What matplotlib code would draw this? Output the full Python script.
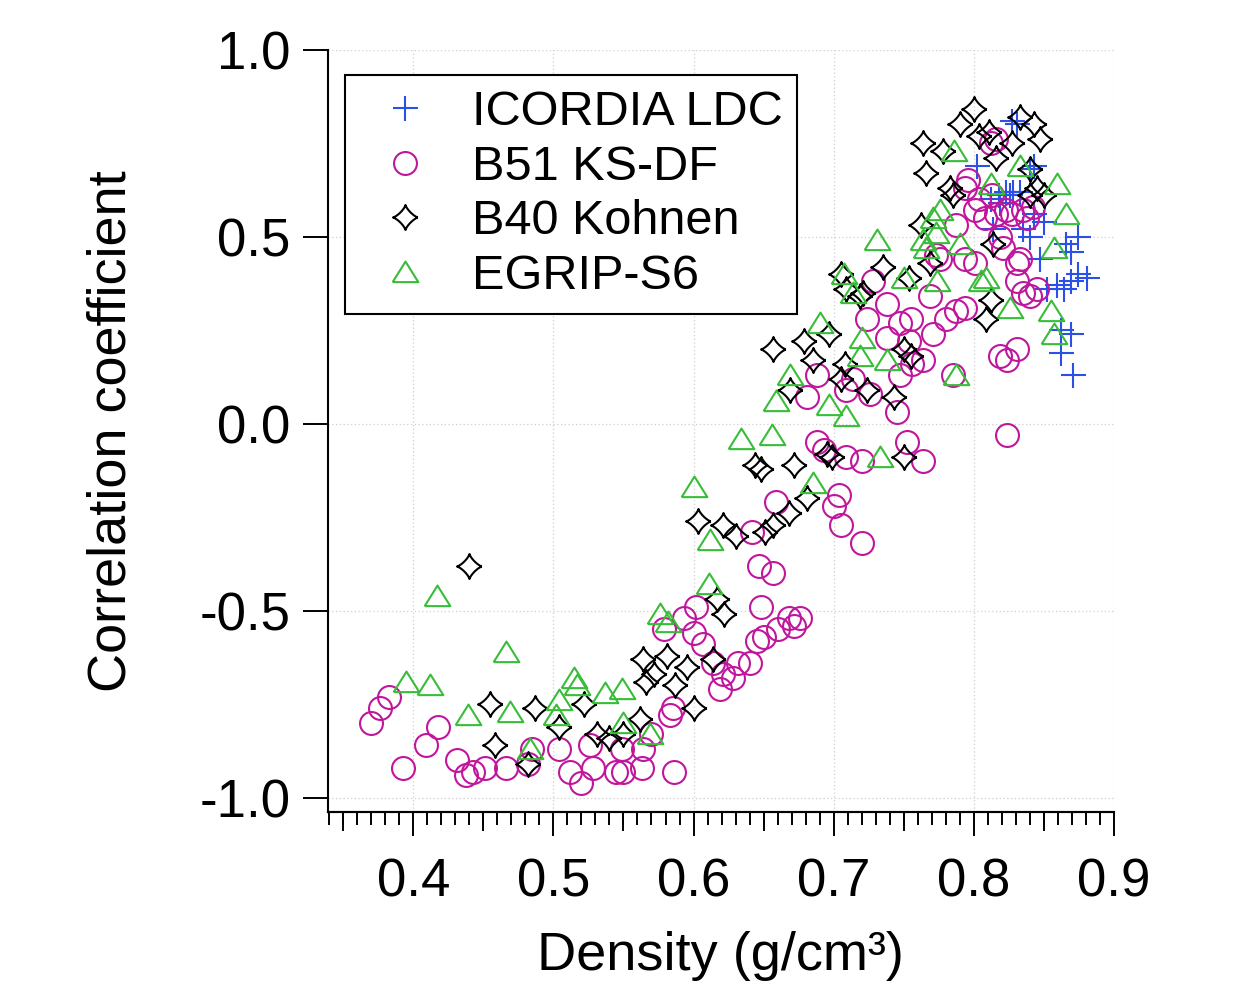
import matplotlib
matplotlib.use("Agg")
import matplotlib.pyplot as plt
from matplotlib.path import Path
from matplotlib.ticker import MultipleLocator, FixedLocator
import numpy as np

plt.rcParams["font.family"] = ["Liberation Sans", "DejaVu Sans"]
plt.rcParams["axes.unicode_minus"] = False

# --- data: density (g/cm3) vs correlation coefficient ---
icordia_density = [0.802, 0.812, 0.818, 0.823, 0.828, 0.833, 0.826, 0.819, 0.814, 0.843,
                   0.840, 0.835, 0.850, 0.847, 0.866, 0.874, 0.869, 0.852, 0.859, 0.864,
                   0.869, 0.874, 0.881, 0.862, 0.869, 0.862, 0.871, 0.831, 0.843, 0.827,
                   0.840]
icordia_corr = [0.69, 0.60, 0.61, 0.62, 0.62, 0.62, 0.61, 0.59, 0.52, 0.56,
                0.50, 0.52, 0.54, 0.44, 0.48, 0.50, 0.46, 0.36, 0.37, 0.36,
                0.38, 0.40, 0.39, 0.25, 0.24, 0.19, 0.13, 0.80, 0.69, 0.81,
                0.68]

b51_density = [0.370, 0.376, 0.383, 0.393, 0.409, 0.418, 0.431, 0.438, 0.443, 0.451,
               0.466, 0.482, 0.485, 0.504, 0.512, 0.520, 0.528, 0.526, 0.545, 0.550,
               0.549, 0.563, 0.564, 0.570, 0.586, 0.585, 0.583, 0.579, 0.593, 0.602,
               0.600, 0.607, 0.614, 0.621, 0.619, 0.628, 0.632, 0.640, 0.645, 0.650,
               0.660, 0.668, 0.672, 0.676, 0.648,
               0.642, 0.647, 0.657, 0.659, 0.688, 0.693, 0.709, 0.720, 0.704, 0.700,
               0.705, 0.720, 0.681, 0.688, 0.709, 0.714, 0.726, 0.745, 0.752, 0.764,
               0.785, 0.824, 0.819, 0.824, 0.831,
               0.724, 0.738, 0.738, 0.728, 0.747, 0.755, 0.756, 0.764, 0.747, 0.754,
               0.769, 0.771, 0.780, 0.787, 0.794, 0.773, 0.776, 0.794, 0.801, 0.787,
               0.796, 0.801, 0.808, 0.813, 0.819, 0.833, 0.835, 0.840, 0.845, 0.831,
               0.827, 0.835, 0.842, 0.812, 0.816, 0.804, 0.816, 0.823, 0.838, 0.821,
               0.831, 0.794]
b51_corr = [-0.80, -0.76, -0.73, -0.92, -0.86, -0.81, -0.90, -0.94, -0.93, -0.92,
            -0.92, -0.91, -0.87, -0.87, -0.93, -0.96, -0.92, -0.86, -0.93, -0.93,
            -0.87, -0.92, -0.87, -0.83, -0.93, -0.76, -0.78, -0.55, -0.52, -0.49,
            -0.56, -0.59, -0.64, -0.67, -0.71, -0.68, -0.64, -0.64, -0.58, -0.57,
            -0.55, -0.52, -0.54, -0.52, -0.49,
            -0.29, -0.38, -0.40, -0.21, -0.05, -0.07, -0.09, -0.10, -0.19, -0.22,
            -0.27, -0.32, 0.07, 0.13, 0.09, 0.12, 0.08, 0.03, -0.05, -0.10,
            0.13, -0.03, 0.18, 0.17, 0.20,
            0.28, 0.23, 0.32, 0.38, 0.27, 0.28, 0.16, 0.17, 0.13, 0.22,
            0.34, 0.24, 0.28, 0.30, 0.31, 0.45, 0.44, 0.44, 0.43, 0.53,
            0.65, 0.57, 0.55, 0.61, 0.50, 0.44, 0.35, 0.34, 0.36, 0.38,
            0.56, 0.57, 0.58, 0.75, 0.76, 0.60, 0.56, 0.57, 0.55, 0.47,
            0.43, 0.63]

b40_density = [0.440, 0.455, 0.458, 0.487, 0.482, 0.504, 0.522, 0.531, 0.540, 0.550,
               0.562, 0.564, 0.566, 0.572, 0.581, 0.587, 0.595, 0.600, 0.603, 0.621,
               0.617, 0.622, 0.614, 0.630, 0.644, 0.648, 0.672, 0.695, 0.699, 0.681,
               0.668, 0.657, 0.651, 0.657, 0.679, 0.697, 0.685, 0.708, 0.705, 0.724,
               0.669, 0.705, 0.709, 0.735, 0.719, 0.721, 0.754, 0.762, 0.766, 0.764,
               0.769, 0.800, 0.778, 0.790, 0.804, 0.811, 0.816, 0.783, 0.785, 0.833,
               0.843, 0.847, 0.827, 0.840, 0.845, 0.850, 0.840, 0.812, 0.809, 0.814,
               0.743, 0.750, 0.750, 0.755]
b40_corr = [-0.38, -0.75, -0.86, -0.76, -0.91, -0.81, -0.75, -0.83, -0.84, -0.83,
            -0.79, -0.63, -0.69, -0.67, -0.62, -0.70, -0.65, -0.76, -0.26, -0.27,
            -0.47, -0.51, -0.63, -0.30, -0.11, -0.12, -0.11, -0.08, -0.09, -0.20,
            -0.24, -0.27, -0.29, 0.20, 0.22, 0.24, 0.17, 0.16, 0.12, 0.09,
            0.09, 0.40, 0.36, 0.42, 0.34, 0.35, 0.39, 0.53, 0.67, 0.75,
            0.43, 0.84, 0.73, 0.80, 0.77, 0.78, 0.71, 0.63, 0.61, 0.82,
            0.80, 0.76, 0.75, 0.68, 0.63, 0.61, 0.61, 0.33, 0.28, 0.48,
            0.07, -0.09, 0.20, 0.18]

egrip_density = [0.417, 0.466, 0.395, 0.412, 0.439, 0.469, 0.483, 0.515, 0.517, 0.504,
                 0.502, 0.537, 0.549, 0.550, 0.569, 0.576, 0.582, 0.612, 0.611, 0.600,
                 0.634, 0.656, 0.685, 0.659, 0.669, 0.697, 0.709, 0.719, 0.720, 0.731,
                 0.690, 0.707, 0.738, 0.750, 0.766, 0.771, 0.786, 0.776, 0.764, 0.773,
                 0.790, 0.809, 0.805, 0.774, 0.826, 0.787, 0.733, 0.859, 0.866, 0.857,
                 0.855, 0.857, 0.812, 0.833, 0.714]
egrip_corr = [-0.46, -0.61, -0.69, -0.70, -0.78, -0.77, -0.87, -0.68, -0.70, -0.74,
              -0.78, -0.72, -0.71, -0.80, -0.83, -0.51, -0.53, -0.31, -0.43, -0.17,
              -0.04, -0.03, -0.16, 0.06, 0.13, 0.05, 0.02, 0.18, 0.23, 0.49,
              0.27, 0.40, 0.17, 0.39, 0.47, 0.55, 0.73, 0.57, 0.49, 0.51,
              0.48, 0.39, 0.38, 0.38, 0.31, 0.13, -0.09, 0.64, 0.56, 0.47,
              0.30, 0.24, 0.64, 0.69, 0.35]

x_ticks = [0.4, 0.5, 0.6, 0.7, 0.8, 0.9]
y_ticks = [-1.0, -0.5, 0.0, 0.5, 1.0]

# four-pointed star with concave sides
t = np.linspace(0, 2 * np.pi, 161)
c, s = np.cos(t), np.sin(t)
star = Path(np.column_stack([np.sign(c) * np.abs(c) ** 2.6,
                             np.sign(s) * np.abs(s) ** 2.6]))
tri = Path([(-1, -0.75), (1, -0.75), (0, 0.85), (-1, -0.75)])

fig = plt.figure(figsize=(12.4, 9.85), dpi=100)
ax = fig.add_axes([0.2643, 0.1759, 0.6341, 0.7738])

mew = 1.5
ax.plot(icordia_density, icordia_corr, ls="none", marker="+", ms=18, mew=mew,
        color="#2a50e6", label="ICORDIA LDC")
ax.plot(b51_density, b51_corr, ls="none", marker="o", ms=16.5, mew=mew,
        mfc="none", mec="#c0169c", label="B51 KS-DF")
ax.plot(b40_density, b40_corr, ls="none", marker=star, ms=18, mew=mew,
        mfc="none", mec="black", label="B40 Kohnen")
ax.plot(egrip_density, egrip_corr, ls="none", marker=tri, ms=18.5, mew=mew,
        mfc="none", mec="#38bd38", label="EGRIP-S6")

ax.set_xlim(0.339, 0.9)
ax.set_ylim(-1.0375, 1.0)
ax.set_xticks(x_ticks)
ax.set_xticklabels([f"{v:.1f}" for v in x_ticks])
ax.set_yticks(y_ticks)
ax.set_yticklabels([f"{v:.1f}" for v in y_ticks])
ax.xaxis.set_minor_locator(MultipleLocator(0.01))

for side in ("top", "right"):
    ax.spines[side].set_visible(False)
for side in ("left", "bottom"):
    ax.spines[side].set_linewidth(1.5)

ax.tick_params(axis="y", which="major", direction="out", length=18, width=1.4,
               labelsize=38, pad=9)
ax.tick_params(axis="x", which="major", direction="out", length=17, width=1.4,
               labelsize=38, pad=16)
ax.tick_params(axis="x", which="minor", direction="out", length=9.5, width=1.4)

# medium ticks at the half-decades
sec = ax.secondary_xaxis("bottom")
sec.xaxis.set_major_locator(FixedLocator([0.35, 0.45, 0.55, 0.65, 0.75, 0.85]))
sec.xaxis.set_minor_locator(FixedLocator([]))
sec.tick_params(axis="x", direction="out", length=14, width=1.4, labelbottom=False)
sec.spines["bottom"].set_linewidth(1.5)

ax.grid(True, which="major", color="#cfcfcf", linestyle=(0, (1, 2)), linewidth=0.9)
ax.set_axisbelow(True)

ax.set_xlabel("Density (g/cm³)", fontsize=39, labelpad=17)
ax.set_ylabel("Correlation coefficient", fontsize=39, labelpad=45)

leg = ax.legend(loc="upper left", bbox_to_anchor=(0.022, 0.966), borderaxespad=0,
                fontsize=35, fancybox=False, framealpha=1, edgecolor="black",
                handlelength=1.87, handletextpad=0.44, borderpad=0.3,
                labelspacing=0.2, markerscale=1)
leg.get_frame().set_linewidth(1.5)

plt.savefig("out.png", dpi=100)
plt.close()
